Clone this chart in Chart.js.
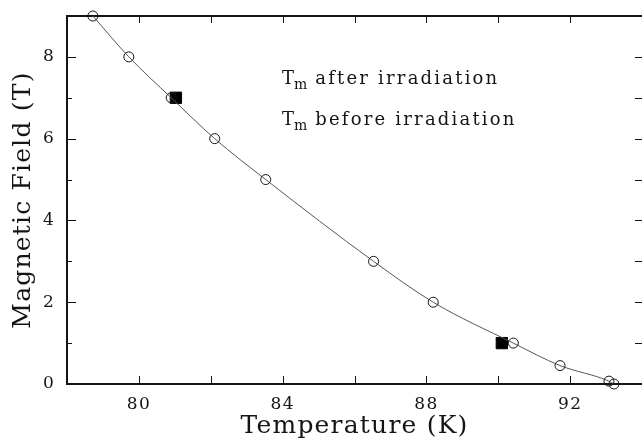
<!DOCTYPE html>
<html lang="en">
<head>
<meta charset="UTF-8">
<title>Melting field vs temperature</title>
<script src="https://cdn.jsdelivr.net/npm/chart.js"></script>
<style>
  html, body { margin: 0; padding: 0; background: #fff; }
  .chart-box { width: 642px; height: 444px; position: relative; }
</style>
</head>
<body>
<div class="chart-box"><canvas id="tmChart"></canvas></div>
<script>
// melting line before irradiation (open circles + curve)
const beforeTemps  = [78.72, 79.72, 80.9, 82.11, 83.53, 86.53, 88.19, 90.42, 91.72, 93.08, 93.22];
const beforeFields = [9, 8, 7, 6, 5, 3, 2, 1, 0.45, 0.07, 0];
// after irradiation (filled squares)
const afterTemps  = [81.03, 90.1];
const afterFields = [7, 1];

const xTickLabels = [80, 84, 88, 92];
const yTickLabels = [0, 2, 4, 6, 8];
const legendLines = ['after irradiation', 'before irradiation'];

const SERIF = '"DejaVu Serif", "Liberation Serif", serif';
const INK = '#151515';

const toXY = (xs, ys) => xs.map((v, i) => ({ x: v, y: ys[i] }));

// frame with inward ticks on all four sides, plus the T_m labels
const frameTicks = {
  id: 'frameTicks',
  beforeDraw(chart) {
    // wider letter spacing for the axis text
    chart.ctx.letterSpacing = '1.2px';
  },
  beforeDatasetsDraw(chart) {
    const { ctx, chartArea: a, scales: { x, y } } = chart;
    ctx.letterSpacing = '0px';
    ctx.save();
    ctx.strokeStyle = INK;
    ctx.lineWidth = 2;
    ctx.beginPath();
    ctx.moveTo(a.right + 2, a.top);
    ctx.lineTo(a.left, a.top);
    ctx.lineTo(a.left, a.bottom);
    ctx.lineTo(a.right + 2, a.bottom);
    ctx.stroke();

    ctx.lineWidth = 1;
    ctx.beginPath();
    x.ticks.forEach(t => {
      if (t.value <= x.min || t.value >= x.max) return;
      const px = Math.round(x.getPixelForValue(t.value)) + 0.5;
      ctx.moveTo(px, a.bottom); ctx.lineTo(px, a.bottom - 8);
      ctx.moveTo(px, a.top); ctx.lineTo(px, a.top + 7);
    });
    y.ticks.forEach(t => {
      if (t.value <= y.min || t.value >= y.max) return;
      const py = Math.round(y.getPixelForValue(t.value)) + 0.5;
      const len = t.value % 2 === 0 ? 9 : 5;
      ctx.moveTo(a.left, py); ctx.lineTo(a.left + len, py);
      ctx.moveTo(a.right, py); ctx.lineTo(a.right - 7, py);
    });
    ctx.stroke();
    ctx.restore();
  },
  afterDraw(chart) {
    const { ctx } = chart;
    ctx.save();
    ctx.fillStyle = INK;
    ctx.textBaseline = 'alphabetic';
    ctx.textAlign = 'left';
    legendLines.forEach((txt, i) => {
      const x0 = 282, base = 84 + i * 41;
      ctx.letterSpacing = '0px';
      ctx.font = '18px ' + SERIF;
      ctx.fillText('T', x0, base);
      const tw = ctx.measureText('T').width;
      ctx.font = '14px ' + SERIF;
      ctx.fillText('m', x0 + tw, base + 5);
      const mw = ctx.measureText('m').width;
      ctx.font = '18px ' + SERIF;
      ctx.letterSpacing = '2.2px';
      ctx.fillText(txt, x0 + tw + mw + 8, base);
    });
    ctx.restore();
  }
};

new Chart(document.getElementById('tmChart'), {
  type: 'scatter',
  data: {
    datasets: [
      {
        label: 'before irradiation',
        data: toXY(beforeTemps, beforeFields),
        showLine: true,
        cubicInterpolationMode: 'monotone',
        borderColor: '#555',
        borderWidth: 1,
        pointStyle: 'circle',
        pointRadius: 5,
        pointBorderWidth: 1,
        pointBorderColor: INK,
        pointBackgroundColor: 'rgba(255,255,255,0)',
        clip: false
      },
      {
        label: 'after irradiation',
        data: toXY(afterTemps, afterFields),
        pointStyle: 'rect',
        pointRadius: 8,
        pointBorderWidth: 1,
        pointBorderColor: '#000',
        pointBackgroundColor: '#000',
        clip: false
      }
    ]
  },
  options: {
    responsive: true,
    maintainAspectRatio: false,
    animation: false,
    layout: { autoPadding: false, padding: { top: 16, right: 0, left: 0, bottom: 0 } },
    plugins: { legend: { display: false }, tooltip: { enabled: false } },
    scales: {
      x: {
        type: 'linear',
        min: 78, max: 94,
        grid: { display: false, drawTicks: false },
        border: { display: false },
        afterFit: s => { s.height = 60; s.paddingLeft = 0; s.paddingRight = 0; },
        ticks: {
          stepSize: 2,
          autoSkip: false,
          maxRotation: 0,
          padding: 10,
          color: INK,
          font: { family: SERIF, size: 17 },
          callback: v => xTickLabels.includes(v) ? String(v) : ''
        },
        title: {
          display: true,
          text: 'Temperature (K)',
          color: INK,
          font: { family: SERIF, size: 25 },
          padding: { top: 0, bottom: 3 }
        }
      },
      y: {
        type: 'linear',
        min: 0, max: 9,
        grid: { display: false, drawTicks: false },
        border: { display: false },
        afterFit: s => { s.width = 67; s.paddingTop = 0; s.paddingBottom = 0; },
        ticks: {
          stepSize: 1,
          autoSkip: false,
          padding: 12,
          color: INK,
          font: { family: SERIF, size: 17 },
          callback: v => yTickLabels.includes(v) ? String(v) : ''
        },
        title: {
          display: true,
          text: 'Magnetic Field (T)',
          color: INK,
          font: { family: SERIF, size: 25 },
          padding: { top: 8, bottom: 0 }
        }
      }
    }
  },
  plugins: [frameTicks]
});
</script>
</body>
</html>
